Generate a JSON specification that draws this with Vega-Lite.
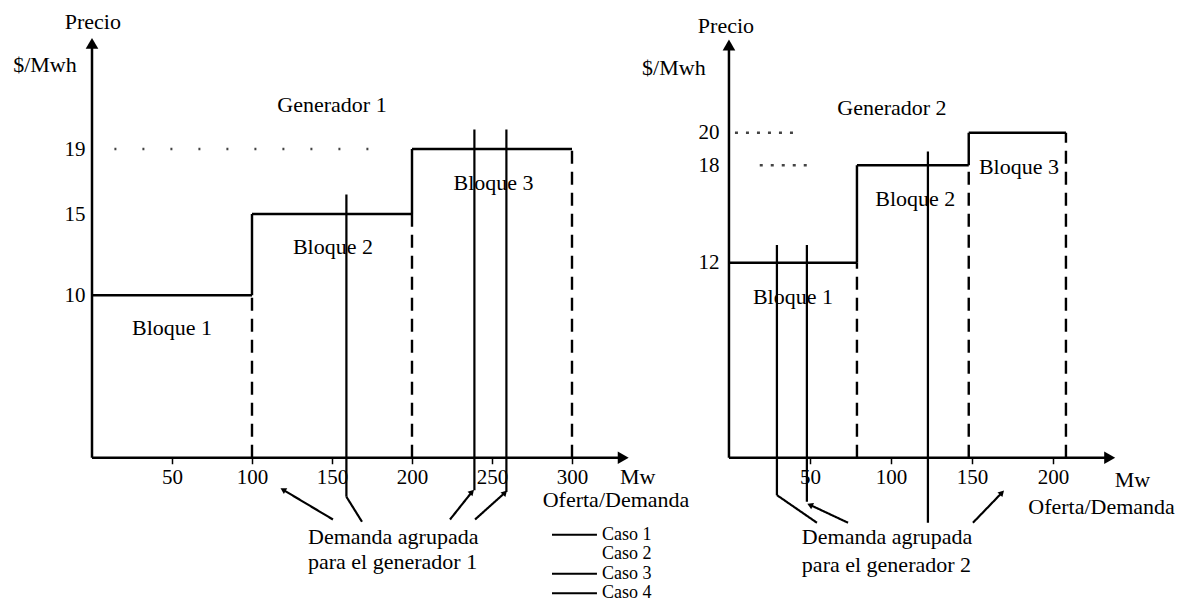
{
  "$schema": "https://vega.github.io/schema/vega-lite/v6.json",
  "background": "white",
  "padding": {"left": 0, "top": 6, "right": 0, "bottom": 0},
  "spacing": 0,
  "bounds": "flush",
  "config": {
    "view": {"stroke": null},
    "text": {"font": "Liberation Serif", "fontSize": 22, "color": "black"},
    "axis": {"labelFont": "Liberation Serif", "labelFontSize": 21, "labelColor": "black", "grid": false, "title": null}
  },
  "datasets": {
    "segIzq": [
      {"x": 0, "y": 0, "x2": 0, "y2": 25.5, "tipo": "eje"},
      {"x": 0, "y": 0, "x2": 332, "y2": 0, "tipo": "eje"},
      {"x": 0, "y": 10, "x2": 100, "y2": 10, "tipo": "oferta"},
      {"x": 100, "y": 10, "x2": 100, "y2": 15, "tipo": "oferta"},
      {"x": 100, "y": 15, "x2": 200, "y2": 15, "tipo": "oferta"},
      {"x": 200, "y": 15, "x2": 200, "y2": 19, "tipo": "oferta"},
      {"x": 200, "y": 19, "x2": 300, "y2": 19, "tipo": "oferta"},
      {"x": 100, "y": 0, "x2": 100, "y2": 10, "tipo": "limite"},
      {"x": 200, "y": 0, "x2": 200, "y2": 15, "tipo": "limite"},
      {"x": 300, "y": 0, "x2": 300, "y2": 19, "tipo": "limite"},
      {"x": 14, "y": 19, "x2": 184, "y2": 19, "tipo": "referencia"},
      {"x": 159, "y": -2.4, "x2": 159, "y2": 16.2, "tipo": "demanda gruesa"},
      {"x": 239, "y": -2.0, "x2": 239, "y2": 20.2, "tipo": "demanda"},
      {"x": 259, "y": -2.1, "x2": 259, "y2": 20.2, "tipo": "demanda"},
      {"x": 159, "y": -2.4, "x2": 168.75, "y2": -3.94, "tipo": "guia"},
      {"x": 150.6, "y": -3.8, "x2": 119.4, "y2": -1.97, "tipo": "guia"},
      {"x": 223.75, "y": -3.8, "x2": 237.5, "y2": -2.1, "tipo": "guia"},
      {"x": 239.4, "y": -3.8, "x2": 258.1, "y2": -2.15, "tipo": "guia"},
      {"x": 287.5, "y": -4.74, "x2": 315.6, "y2": -4.74, "tipo": "caso 1"},
      {"x": 287.5, "y": -7.14, "x2": 315.6, "y2": -7.14, "tipo": "caso 3"},
      {"x": 287.5, "y": -8.34, "x2": 315.6, "y2": -8.34, "tipo": "caso 4"}
    ],
    "textoIzq": [
      {"x": 0.5, "y": 26.8, "texto": "Precio", "grupo": "centro"},
      {"x": -29.4, "y": 24.2, "texto": "$/Mwh", "grupo": "centro"},
      {"x": 150, "y": 21.7, "texto": "Generador 1", "grupo": "centro"},
      {"x": 50, "y": 8, "texto": "Bloque 1", "grupo": "centro"},
      {"x": 150.6, "y": 13, "texto": "Bloque 2", "grupo": "centro"},
      {"x": 251, "y": 16.9, "texto": "Bloque 3", "grupo": "centro"},
      {"x": 341, "y": -1.2, "texto": "Mw", "grupo": "centro"},
      {"x": 327.5, "y": -2.6, "texto": "Oferta/Demanda", "grupo": "centro"},
      {"x": 135, "y": -4.86, "texto": "Demanda agrupada", "grupo": "izquierda"},
      {"x": 135, "y": -6.4, "texto": "para el generador 1", "grupo": "izquierda"},
      {"x": 318.75, "y": -4.74, "texto": "Caso 1", "grupo": "leyenda"},
      {"x": 318.75, "y": -5.94, "texto": "Caso 2", "grupo": "leyenda"},
      {"x": 318.75, "y": -7.14, "texto": "Caso 3", "grupo": "leyenda"},
      {"x": 318.75, "y": -8.34, "texto": "Caso 4", "grupo": "leyenda"}
    ],
    "flechasIzq": [
      {"x": 0, "y": 25.5, "direccion": "arriba"},
      {"x": 332, "y": 0, "direccion": "derecha"},
      {"x": 119.4, "y": -1.97, "direccion": "arriba-izquierda"},
      {"x": 237.5, "y": -2.1, "direccion": "arriba-derecha"},
      {"x": 258.1, "y": -2.15, "direccion": "arriba-derecha"}
    ],
    "segDer": [
      {"x": 0, "y": 0, "x2": 0, "y2": 25.4, "tipo": "eje"},
      {"x": 0, "y": 0, "x2": 235, "y2": 0, "tipo": "eje"},
      {"x": 0, "y": 12, "x2": 79, "y2": 12, "tipo": "oferta"},
      {"x": 79, "y": 12, "x2": 79, "y2": 18, "tipo": "oferta"},
      {"x": 79, "y": 18, "x2": 148, "y2": 18, "tipo": "oferta"},
      {"x": 148, "y": 18, "x2": 148, "y2": 20, "tipo": "oferta"},
      {"x": 148, "y": 20, "x2": 208, "y2": 20, "tipo": "oferta"},
      {"x": 79, "y": 0, "x2": 79, "y2": 12, "tipo": "limite"},
      {"x": 148, "y": 0, "x2": 148, "y2": 18, "tipo": "limite"},
      {"x": 208, "y": 0, "x2": 208, "y2": 20, "tipo": "limite"},
      {"x": 3.7, "y": 20, "x2": 44, "y2": 20, "tipo": "referencia corta"},
      {"x": 19, "y": 18, "x2": 50, "y2": 18, "tipo": "referencia corta"},
      {"x": 29.6, "y": -2.3, "x2": 29.6, "y2": 13.1, "tipo": "demanda gruesa"},
      {"x": 48.1, "y": -2.7, "x2": 48.1, "y2": 13.1, "tipo": "demanda gruesa"},
      {"x": 122.8, "y": -4.0, "x2": 122.8, "y2": 18.85, "tipo": "demanda gruesa"},
      {"x": 29.6, "y": -2.3, "x2": 54.3, "y2": -4.0, "tipo": "guia"},
      {"x": 73.5, "y": -4.0, "x2": 50, "y2": -2.9, "tipo": "guia"},
      {"x": 150.6, "y": -4.0, "x2": 168.5, "y2": -2.15, "tipo": "guia"}
    ],
    "textoDer": [
      {"x": -1.85, "y": 26.6, "texto": "Precio", "grupo": "centro"},
      {"x": -34, "y": 24, "texto": "$/Mwh", "grupo": "centro"},
      {"x": 100.6, "y": 21.5, "texto": "Generador 2", "grupo": "centro"},
      {"x": 39.5, "y": 9.9, "texto": "Bloque 1", "grupo": "centro"},
      {"x": 115, "y": 15.9, "texto": "Bloque 2", "grupo": "centro"},
      {"x": 179, "y": 17.9, "texto": "Bloque 3", "grupo": "centro"},
      {"x": 249, "y": -1.35, "texto": "Mw", "grupo": "centro"},
      {"x": 230, "y": -3.0, "texto": "Oferta/Demanda", "grupo": "centro"},
      {"x": 45, "y": -4.9, "texto": "Demanda agrupada", "grupo": "izquierda"},
      {"x": 45, "y": -6.6, "texto": "para el generador 2", "grupo": "izquierda"}
    ],
    "flechasDer": [
      {"x": 0, "y": 25.4, "direccion": "arriba"},
      {"x": 235, "y": 0, "direccion": "derecha"},
      {"x": 50, "y": -2.9, "direccion": "arriba-izquierda"},
      {"x": 168.5, "y": -2.15, "direccion": "arriba-derecha"}
    ]
  },
  "hconcat": [
    {
      "width": 600,
      "height": 598,
      "encoding": {
        "x": {"field": "x", "type": "quantitative", "scale": {"domain": [-57.5, 317.5], "nice": false, "zero": false},
              "axis": {"values": [50, 100, 150, 200, 250, 300], "offset": -146.25, "domain": false, "tickSize": 6, "tickWidth": 1.5, "tickColor": "black", "labelPadding": 3}},
        "y": {"field": "y", "type": "quantitative", "scale": {"domain": [-9, 27.8], "nice": false, "zero": false},
              "axis": {"values": [10, 15, 19], "offset": -92, "domain": false, "ticks": false, "labelPadding": 7}}
      },
      "layer": [
        {
          "data": {"name": "segIzq"},
          "mark": {"type": "rule"},
          "encoding": {
            "x2": {"field": "x2"},
            "y2": {"field": "y2"},
            "color": {"field": "tipo", "type": "nominal", "legend": null,
              "scale": {"domain": ["eje", "oferta", "limite", "referencia", "referencia corta", "demanda gruesa", "demanda", "guia", "caso 1", "caso 3", "caso 4"],
                        "range": ["#000000", "#000000", "#000000", "#444444", "#444444", "#000000", "#000000", "#000000", "#000000", "#000000", "#000000"]}},
            "strokeDash": {"field": "tipo", "type": "nominal", "legend": null,
              "scale": {"domain": ["eje", "oferta", "limite", "referencia", "referencia corta", "demanda gruesa", "demanda", "guia", "caso 1", "caso 3", "caso 4"],
                        "range": [[1, 0], [1, 0], [13, 8], [2, 26], [3, 8], [1, 0], [1, 0], [1, 0], [1, 0], [1, 0], [1, 0]]}},
            "strokeWidth": {"field": "tipo", "type": "ordinal", "legend": null,
              "scale": {"domain": ["eje", "oferta", "limite", "referencia", "referencia corta", "demanda gruesa", "demanda", "guia", "caso 1", "caso 3", "caso 4"],
                        "range": [2.5, 2, 2, 1.5, 1.5, 3.5, 2.5, 1.3, 1.3, 3.5, 2]}}
          }
        },
        {
          "data": {"name": "textoIzq"},
          "transform": [{"filter": "datum.grupo == 'centro'"}],
          "mark": {"type": "text", "align": "center", "baseline": "middle", "font": "Liberation Serif", "fontSize": 22},
          "encoding": {"text": {"field": "texto"}}
        },
        {
          "data": {"name": "textoIzq"},
          "transform": [{"filter": "datum.grupo == 'izquierda'"}],
          "mark": {"type": "text", "align": "left", "baseline": "middle", "font": "Liberation Serif", "fontSize": 22},
          "encoding": {"text": {"field": "texto"}}
        },
        {
          "data": {"name": "textoIzq"},
          "transform": [{"filter": "datum.grupo == 'leyenda'"}],
          "mark": {"type": "text", "align": "left", "baseline": "middle", "font": "Liberation Serif", "fontSize": 18},
          "encoding": {"text": {"field": "texto"}}
        },
        {
          "data": {"name": "flechasIzq"},
          "transform": [{"filter": "datum.direccion == 'arriba'"}],
          "mark": {"type": "point", "shape": "triangle-up", "filled": true, "color": "black", "opacity": 1, "size": 160, "angle": 0}
        },
        {
          "data": {"name": "flechasIzq"},
          "transform": [{"filter": "datum.direccion == 'derecha'"}],
          "mark": {"type": "point", "shape": "triangle-up", "filled": true, "color": "black", "opacity": 1, "size": 160, "angle": 90}
        },
        {
          "data": {"name": "flechasIzq"},
          "transform": [{"filter": "datum.direccion == 'arriba-izquierda'"}],
          "mark": {"type": "point", "shape": "triangle-up", "filled": true, "color": "black", "opacity": 1, "size": 45, "angle": 300}
        },
        {
          "data": {"name": "flechasIzq"},
          "transform": [{"filter": "datum.direccion == 'arriba-derecha'"}],
          "mark": {"type": "point", "shape": "triangle-up", "filled": true, "color": "black", "opacity": 1, "size": 45, "angle": 43}
        }
      ]
    },
    {
      "width": 586,
      "height": 598,
      "encoding": {
        "x": {"field": "x", "type": "quantitative", "scale": {"domain": [-79.6, 282.1], "nice": false, "zero": false},
              "axis": {"values": [50, 100, 150, 200], "offset": -146.25, "domain": false, "tickSize": 6, "tickWidth": 1.5, "tickColor": "black", "labelPadding": 3}},
        "y": {"field": "y", "type": "quantitative", "scale": {"domain": [-9, 27.8], "nice": false, "zero": false},
              "axis": {"values": [12, 18, 20], "offset": -129, "domain": false, "ticks": false, "labelPadding": 10}}
      },
      "layer": [
        {
          "data": {"name": "segDer"},
          "mark": {"type": "rule"},
          "encoding": {
            "x2": {"field": "x2"},
            "y2": {"field": "y2"},
            "color": {"field": "tipo", "type": "nominal", "legend": null,
              "scale": {"domain": ["eje", "oferta", "limite", "referencia", "referencia corta", "demanda gruesa", "demanda", "guia", "caso 1", "caso 3", "caso 4"],
                        "range": ["#000000", "#000000", "#000000", "#444444", "#444444", "#000000", "#000000", "#000000", "#000000", "#000000", "#000000"]}},
            "strokeDash": {"field": "tipo", "type": "nominal", "legend": null,
              "scale": {"domain": ["eje", "oferta", "limite", "referencia", "referencia corta", "demanda gruesa", "demanda", "guia", "caso 1", "caso 3", "caso 4"],
                        "range": [[1, 0], [1, 0], [13, 8], [2, 26], [3, 8], [1, 0], [1, 0], [1, 0], [1, 0], [1, 0], [1, 0]]}},
            "strokeWidth": {"field": "tipo", "type": "ordinal", "legend": null,
              "scale": {"domain": ["eje", "oferta", "limite", "referencia", "referencia corta", "demanda gruesa", "demanda", "guia", "caso 1", "caso 3", "caso 4"],
                        "range": [2.5, 2, 2, 1.5, 1.5, 3, 2.5, 1.3, 1.3, 3.5, 2]}}
          }
        },
        {
          "data": {"name": "textoDer"},
          "transform": [{"filter": "datum.grupo == 'centro'"}],
          "mark": {"type": "text", "align": "center", "baseline": "middle", "font": "Liberation Serif", "fontSize": 22},
          "encoding": {"text": {"field": "texto"}}
        },
        {
          "data": {"name": "textoDer"},
          "transform": [{"filter": "datum.grupo == 'izquierda'"}],
          "mark": {"type": "text", "align": "left", "baseline": "middle", "font": "Liberation Serif", "fontSize": 22},
          "encoding": {"text": {"field": "texto"}}
        },
        {
          "data": {"name": "flechasDer"},
          "transform": [{"filter": "datum.direccion == 'arriba'"}],
          "mark": {"type": "point", "shape": "triangle-up", "filled": true, "color": "black", "opacity": 1, "size": 160, "angle": 0}
        },
        {
          "data": {"name": "flechasDer"},
          "transform": [{"filter": "datum.direccion == 'derecha'"}],
          "mark": {"type": "point", "shape": "triangle-up", "filled": true, "color": "black", "opacity": 1, "size": 160, "angle": 90}
        },
        {
          "data": {"name": "flechasDer"},
          "transform": [{"filter": "datum.direccion == 'arriba-izquierda'"}],
          "mark": {"type": "point", "shape": "triangle-up", "filled": true, "color": "black", "opacity": 1, "size": 45, "angle": 295}
        },
        {
          "data": {"name": "flechasDer"},
          "transform": [{"filter": "datum.direccion == 'arriba-derecha'"}],
          "mark": {"type": "point", "shape": "triangle-up", "filled": true, "color": "black", "opacity": 1, "size": 45, "angle": 44}
        }
      ]
    }
  ]
}
